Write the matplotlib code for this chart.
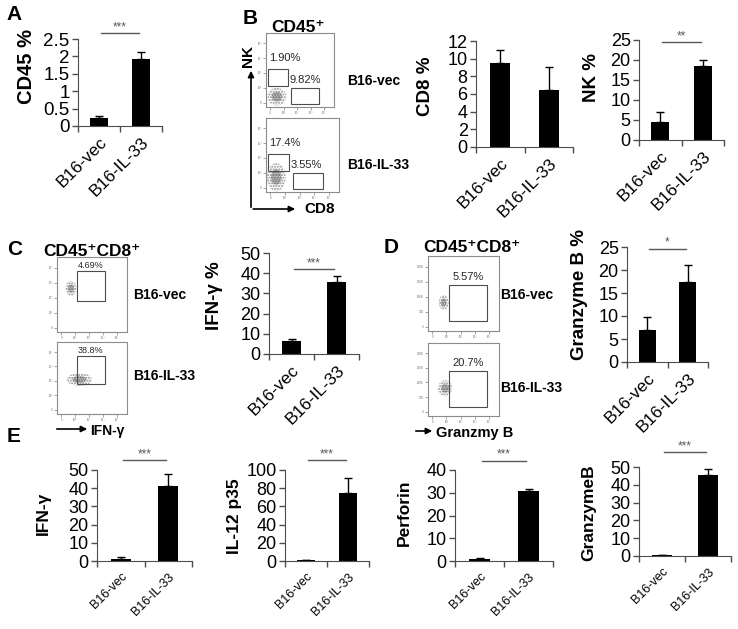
import numpy as np
import matplotlib.pyplot as plt
from matplotlib.patches import Rectangle, Ellipse, FancyArrowPatch

plt.rcParams['font.family'] = ['Liberation Sans', 'DejaVu Sans']

# ---- data ----
groups = ['B16-vec', 'B16-IL-33']

cd45_mean, cd45_err = [0.23, 1.93], [0.05, 0.20]
cd8_mean, cd8_err = [9.5, 6.4], [1.5, 2.7]
nk_mean, nk_err = [4.5, 18.5], [2.5, 1.5]
ifng_pct_mean, ifng_pct_err = [6.4, 35.5], [0.8, 3.0]
gzmb_pct_mean, gzmb_pct_err = [7.0, 17.5], [2.8, 3.6]

ifng_mean, ifng_err = [1.3, 41.0], [0.8, 7.0]
il12_mean, il12_err = [1.0, 75.0], [0.3, 16.0]
perf_mean, perf_err = [0.8, 30.8], [0.3, 0.7]
gzmb_mean, gzmb_err = [0.5, 45.5], [0.3, 3.5]

# flow gates (x0, y0, x1, y1) in decade units, and gate percentages
b_nk_gate = (0.15, 1.45, 1.6, 2.6)
b_cd8_gate = (1.85, 0.2, 3.9, 1.28)
b_pct = {'B16-vec': ('1.90%', '9.82%'), 'B16-IL-33': ('17.4%', '3.55%')}
c_gate = (1.45, 2.05, 3.4, 4.05)
c_pct = ['4.69%', '38.8%']
d_gate = (1.45, 0.65, 4.15, 3.1)
d_pct = ['5.57%', '20.7%']

W, H = 738, 629
fig = plt.figure(figsize=(W / 100, H / 100), dpi=100)


def rect(l, t, r, b):
    return [l / W, 1 - b / H, (r - l) / W, (b - t) / H]


def fpt(x, y):
    return (x / W, 1 - y / H)


def bar_panel(box, means, errs, ymax, ystep, stars, star_y, tick_fs=13, xlab_fs=12.5, xpad=6):
    ax = fig.add_axes(rect(*box))
    x = [0, 1]
    ax.bar(x, means, width=0.42, color='black',
           yerr=[[0, 0], errs],
           error_kw=dict(ecolor='black', capsize=3, elinewidth=1, capthick=1))
    ax.set_xlim(-0.5, 1.5)
    ax.set_ylim(0, ymax)
    yt = np.arange(0, ymax + ystep / 2, ystep)
    ax.set_yticks(yt, [f'{v:g}' for v in yt], fontsize=tick_fs)
    ax.set_xticks([-0.5, 0.5, 1.5], ['', '', ''])
    ax.set_xticks(x, groups, minor=True, rotation=45, ha='right',
                  rotation_mode='anchor', fontsize=xlab_fs)
    ax.tick_params(axis='x', which='minor', length=0, pad=xpad)
    ax.tick_params(axis='both', which='major', length=4, width=1, color='0.3', pad=2)
    for s in ['top', 'right']:
        ax.spines[s].set_visible(False)
    for s in ['left', 'bottom']:
        ax.spines[s].set_color('0.3')
    if stars:
        ax.plot([0.05, 0.95], [star_y, star_y], color='0.35', lw=1, clip_on=False)
        ax.text(0.5, star_y, stars, ha='center', va='bottom', fontsize=8.5, color='0.35')
    return ax


def flow_panel(box, gates, labels, cloud, ylin=False):
    ax = fig.add_axes(rect(*box))
    ax.set_xlim(0, 5)
    ax.set_ylim(0, 5)
    ex, ey, ew, eh = cloud
    ax.add_patch(Ellipse((ex, ey), ew, eh, fc='none', ec='0.55', lw=0, hatch='......'))
    ax.add_patch(Ellipse((ex, ey), ew * 0.55, eh * 0.55, fc='none', ec='0.35', lw=0, hatch='........'))
    for x0, y0, x1, y1 in gates:
        ax.add_patch(Rectangle((x0, y0), x1 - x0, y1 - y0, fill=False, ec='0.3', lw=0.8))
    for x, y, s, ha, fs in labels:
        ax.text(x, y, s, ha=ha, va='center', fontsize=fs, color='0.15')
    ticks = [0.3, 1.3, 2.3, 3.3, 4.3]
    xl = ['0', '10²', '10³', '10⁴', '10⁵']
    yl = ['0', '50K', '100K', '150K', '200K'] if ylin else xl
    ax.set_xticks(ticks, xl, fontsize=2.2, color='0.45')
    ax.set_yticks(ticks, yl, fontsize=2.2, color='0.45')
    ax.tick_params(length=2, width=0.5, color='0.5', pad=1)
    for s in ax.spines.values():
        s.set_color('0.55')
        s.set_linewidth(0.8)
    return ax


def arrow(p0, p1):
    fig.add_artist(FancyArrowPatch(fpt(*p0), fpt(*p1), transform=fig.transFigure,
                                   arrowstyle='-|>', mutation_scale=9, lw=1.2, color='black'))


def ylab(x, y, s, fs=13.5):
    fig.text(x / W, 1 - y / H, s, rotation=90, ha='center', va='center',
             fontsize=fs, fontweight='bold')


def plabel(x, y, s, fs=15):
    fig.text(x / W, 1 - y / H, s, ha='center', va='center', fontsize=fs, fontweight='bold')


# ---- A ----
plabel(14, 15, 'A')
bar_panel((78, 39, 162, 126), cd45_mean, cd45_err, 2.5, 0.5, '***', 2.67, tick_fs=13.5)
ylab(27, 67, 'CD45 %', fs=14.5)

# ---- B ----
plabel(250, 18, 'B')
fig.text(298 / W, 1 - 27 / H, 'CD45⁺', ha='center', va='center', fontsize=12.5, fontweight='bold')
b_boxes = [(266, 33, 334, 107), (266, 118, 339, 192)]
b_clouds = [(0.8, 0.7, 1.4, 1.2), (0.7, 1.0, 1.3, 1.9)]
b_label_y = [81, 165]
for box, g, cl, ly in zip(b_boxes, groups, b_clouds, b_label_y):
    nk_s, cd8_s = b_pct[g]
    flow_panel(box, [b_nk_gate, b_cd8_gate],
               [(0.2, 3.3, nk_s, 'left', 8), (1.7, 1.8, cd8_s, 'left', 8)], cl)
    fig.text(347 / W, 1 - ly / H, g, ha='left', va='center', fontsize=10, fontweight='bold')
arrow((251, 210), (251, 68))
arrow((250.4, 209), (298, 209))
fig.text(248 / W, 1 - 56 / H, 'NK', rotation=90, ha='center', va='center', fontsize=11, fontweight='bold')
fig.text(304 / W, 1 - 209 / H, 'CD8', ha='left', va='center', fontsize=11, fontweight='bold')

bar_panel((476, 41, 573, 147), cd8_mean, cd8_err, 12, 2, None, 0)
ylab(425, 86, 'CD8 %')
bar_panel((639, 40, 724, 140), nk_mean, nk_err, 25, 5, '**', 24.5)
ylab(592, 77, 'NK %')

# ---- C ----
plabel(15, 250, 'C')
fig.text(43 / W, 1 - 251 / H, 'CD45⁺CD8⁺', ha='left', va='center', fontsize=12.5, fontweight='bold')
c_boxes = [(57, 257, 127, 332), (57, 342, 127, 414)]
c_clouds = [(1.0, 2.9, 0.8, 1.0), (1.6, 2.4, 1.8, 0.9)]
c_label_y = [295, 376]
for box, pct, cl, ly, g in zip(c_boxes, c_pct, c_clouds, c_label_y, groups):
    flow_panel(box, [c_gate], [(2.4, 4.4, pct, 'center', 6.5)], cl)
    fig.text(133 / W, 1 - ly / H, g, ha='left', va='center', fontsize=10, fontweight='bold')
arrow((54, 429), (90, 429))
fig.text(90 / W, 1 - 431 / H, 'IFN-γ', ha='left', va='center', fontsize=10, fontweight='bold')

bar_panel((269, 253, 359, 354), ifng_pct_mean, ifng_pct_err, 50, 10, '***', 42)
ylab(214, 296, 'IFN-γ %')

# ---- D ----
plabel(391, 248, 'D')
fig.text(423 / W, 1 - 248 / H, 'CD45⁺CD8⁺', ha='left', va='center', fontsize=12.5, fontweight='bold')
d_boxes = [(428, 256, 499, 331), (428, 343, 499, 416)]
d_clouds = [(1.1, 1.9, 0.7, 1.0), (1.2, 1.9, 1.0, 1.1)]
d_label_y = [295, 388]
for box, pct, cl, ly, g in zip(d_boxes, d_pct, d_clouds, d_label_y, groups):
    flow_panel(box, [d_gate], [(2.8, 3.6, pct, 'center', 8)], cl, ylin=True)
    fig.text(500 / W, 1 - ly / H, g, ha='left', va='center', fontsize=10, fontweight='bold')
arrow((413, 431), (435, 431))
fig.text(436 / W, 1 - 433 / H, 'Granzmy B', ha='left', va='center', fontsize=10.5, fontweight='bold')

bar_panel((627, 247, 708, 362), gzmb_pct_mean, gzmb_pct_err, 25, 5, '*', 24.6)
ylab(579, 295, 'Granzyme B %')

# ---- E ----
plabel(14, 436, 'E')
bar_panel((97, 470, 192, 561), ifng_mean, ifng_err, 50, 10, '***', 55.5, 13, 9, 7)
ylab(43, 513, 'IFN-γ', fs=12.5)
bar_panel((285, 470, 369, 561), il12_mean, il12_err, 100, 20, '***', 111, 13, 9, 7)
ylab(234, 516, 'IL-12 p35', fs=12.5)
bar_panel((455, 470, 553, 561), perf_mean, perf_err, 40, 10, '***', 44, 13, 9, 7)
ylab(404, 513, 'Perforin', fs=12.5)
bar_panel((639, 467, 731, 556), gzmb_mean, gzmb_err, 50, 10, '***', 58.4, 13, 9, 7)
ylab(589, 513, 'GranzymeB', fs=12.5)

fig.savefig('out.png', dpi=100)
